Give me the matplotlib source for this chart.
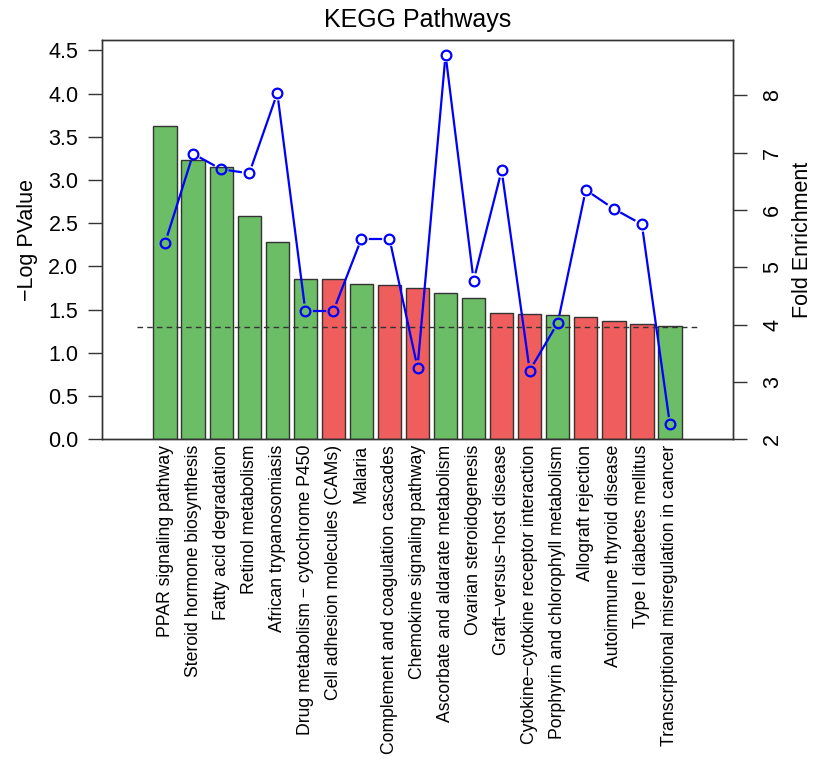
import matplotlib
matplotlib.use("Agg")
import matplotlib.pyplot as plt
import numpy as np

plt.rcParams['font.family'] = ['Liberation Sans', 'DejaVu Sans']

# KEGG pathway enrichment data
pathways = [
    "PPAR signaling pathway",
    "Steroid hormone biosynthesis",
    "Fatty acid degradation",
    "Retinol metabolism",
    "African trypanosomiasis",
    "Drug metabolism \u2212 cytochrome P450",
    "Cell adhesion molecules (CAMs)",
    "Malaria",
    "Complement and coagulation cascades",
    "Chemokine signaling pathway",
    "Ascorbate and aldarate metabolism",
    "Ovarian steroidogenesis",
    "Graft\u2212versus\u2212host disease",
    "Cytokine\u2212cytokine receptor interaction",
    "Porphyrin and chlorophyll metabolism",
    "Allograft rejection",
    "Autoimmune thyroid disease",
    "Type I diabetes mellitus",
    "Transcriptional misregulation in cancer",
]
neg_log_p = [3.62, 3.23, 3.15, 2.58, 2.28, 1.86, 1.855, 1.80, 1.78, 1.75,
             1.69, 1.63, 1.46, 1.45, 1.435, 1.415, 1.37, 1.33, 1.315]
fold_enrichment = [5.43, 6.98, 6.71, 6.64, 8.04, 4.24, 4.24, 5.50, 5.50, 3.25,
                   8.71, 4.77, 6.69, 3.20, 4.03, 6.35, 6.02, 5.75, 2.26]
# direction of regulation: "up" -> green, "down" -> red
direction = ["up", "up", "up", "up", "up", "up", "down", "up", "down", "down",
             "up", "up", "down", "down", "up", "down", "down", "down", "up"]
p_cutoff = 1.3  # -log10(0.05)

green = "#6bbd66"
red = "#ef5d5d"
edge = "#333333"

# R barplot style positions: width 1, space 0.2
x = 0.2 + 0.5 + 1.2 * np.arange(len(pathways))
colors = [green if d == "up" else red for d in direction]

fig = plt.figure(figsize=(8.13, 7.59), dpi=100)
ax = fig.add_axes([0.1255, 0.4212, 0.9016 - 0.1255, 0.9473 - 0.4212])

ax.bar(x, neg_log_p, width=1.0, color=colors, edgecolor=edge, linewidth=1.0, zorder=2)
ax.plot([-0.5, 23.6], [p_cutoff, p_cutoff], color=edge, linestyle=(0, (4, 3)),
        linewidth=1.0, zorder=3)

ax.set_xlim(-2.0, 25.0)
ax.set_ylim(0, 4.62)
ax.set_yticks(np.arange(0, 4.51, 0.5))
ax.set_yticklabels([f"{v:.1f}" for v in np.arange(0, 4.51, 0.5)])
ax.set_xticks(x)
ax.set_xticklabels(pathways, rotation=90, fontsize=12.7)
ax.tick_params(axis='x', length=0, pad=4)
ax.tick_params(axis='y', length=10, width=1.0, color=edge, labelsize=15.5, pad=7)
ax.set_ylabel("\u2212Log PValue", fontsize=15.5, labelpad=7)
ax.set_title("KEGG Pathways", fontsize=18, pad=9)
for sp in ax.spines.values():
    sp.set_color(edge)
    sp.set_linewidth(1.0)

# fold enrichment on secondary axis, drawn like R type="b"
ax2 = ax.twinx()
ax2.set_ylim(2, 8.965)
ax2.set_yticks(range(2, 9))
ax2.tick_params(axis='y', length=10, width=1.0, color=edge, labelsize=15.5,
                pad=11, labelrotation=90)
for lab in ax2.get_yticklabels():
    lab.set_va('center')
ax2.set_ylabel("Fold Enrichment", fontsize=15.5, rotation=90, labelpad=6)
for sp in ax2.spines.values():
    sp.set_color(edge)
    sp.set_linewidth(1.0)

fig.canvas.draw()
pts = ax2.transData.transform(np.column_stack([x, fold_enrichment]))
gap = 8.5  # pixels cut from each end of a segment
inv = ax2.transData.inverted()
for (x0, y0), (x1, y1) in zip(pts[:-1], pts[1:]):
    d = np.hypot(x1 - x0, y1 - y0)
    if d <= 2 * gap:
        continue
    ux, uy = (x1 - x0) / d, (y1 - y0) / d
    a = inv.transform((x0 + ux * gap, y0 + uy * gap))
    b = inv.transform((x1 - ux * gap, y1 - uy * gap))
    ax2.plot([a[0], b[0]], [a[1], b[1]], color="#0000ff", linewidth=1.6, zorder=4)
ax2.plot(x, fold_enrichment, linestyle='none', marker='o', markersize=7,
         markerfacecolor='none', markeredgecolor="#0000ff", markeredgewidth=1.6, zorder=5)

fig.savefig("out.png", dpi=100)
